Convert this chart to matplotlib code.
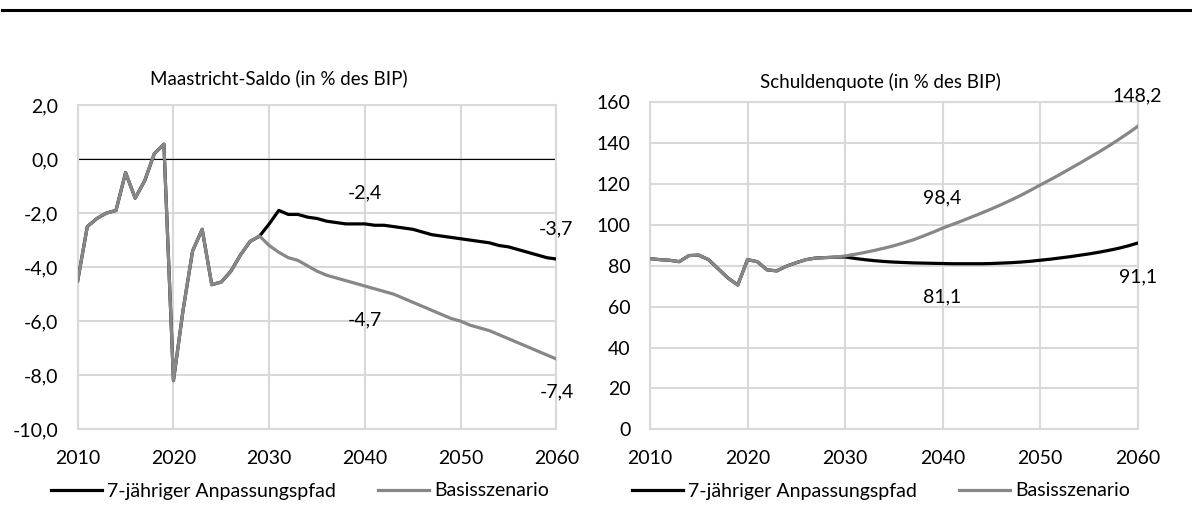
import matplotlib
matplotlib.use('Agg')
import matplotlib.pyplot as plt
from matplotlib.lines import Line2D

plt.rcParams['font.family'] = ['Lato', 'DejaVu Sans']

years = list(range(2010, 2061))

# Maastricht-Saldo (in % des BIP)
saldo_basis = [-4.5, -2.5, -2.2, -2.0, -1.9, -0.5, -1.45, -0.8, 0.2, 0.55,
               -8.2, -5.6, -3.4, -2.6, -4.65, -4.55, -4.15, -3.55, -3.05, -2.85,
               -3.2, -3.45, -3.65, -3.75, -3.95, -4.15, -4.3, -4.4, -4.5, -4.6,
               -4.7, -4.8, -4.9, -5.0, -5.15, -5.3, -5.45, -5.6, -5.75, -5.9,
               -6.0, -6.15, -6.25, -6.35, -6.5, -6.65, -6.8, -6.95, -7.1, -7.25,
               -7.4]
saldo_pfad = saldo_basis[:20] + [
               -2.4, -1.9, -2.05, -2.05, -2.15, -2.2, -2.3, -2.35, -2.4, -2.4,
               -2.4, -2.45, -2.45, -2.5, -2.55, -2.6, -2.7, -2.8, -2.85, -2.9,
               -2.95, -3.0, -3.05, -3.1, -3.2, -3.25, -3.35, -3.45, -3.55, -3.65,
               -3.7]

# Schuldenquote (in % des BIP)
schuld_basis = [83.5, 83.0, 82.7, 82.0, 85.0, 85.2, 83.0, 78.5, 74.0, 70.6,
                83.0, 82.0, 78.0, 77.5, 79.8, 81.5, 83.0, 83.8, 84.0, 84.2,
                84.8, 85.6, 86.5, 87.5, 88.6, 89.8, 91.2, 92.7, 94.5, 96.4,
                98.4, 100.2, 102.0, 103.9, 105.8, 107.8, 109.9, 112.1, 114.4, 116.9,
                119.5, 122.0, 124.6, 127.3, 130.0, 132.8, 135.6, 138.5, 141.6, 144.8,
                148.2]
schuld_pfad = schuld_basis[:20] + [
                84.3, 83.6, 83.0, 82.5, 82.1, 81.8, 81.6, 81.4, 81.3, 81.2,
                81.1, 81.0, 81.0, 81.0, 81.0, 81.1, 81.3, 81.5, 81.8, 82.2,
                82.7, 83.2, 83.8, 84.4, 85.1, 85.8, 86.6, 87.5, 88.5, 89.7,
                91.1]

# labels: (year, which series, text, above?)
saldo_labels = [(2040, 'pfad', '-2,4', True), (2060, 'pfad', '-3,7', True),
                (2040, 'basis', '-4,7', False), (2060, 'basis', '-7,4', False)]
schuld_labels = [(2040, 'basis', '98,4', True), (2060, 'basis', '148,2', True),
                 (2040, 'pfad', '81,1', False), (2060, 'pfad', '91,1', False)]

black = '#000000'
grey = '#878787'
gridc = '#d9d9d9'
fs = 14

fig = plt.figure(figsize=(11.92, 5.07), dpi=100)
ax1 = fig.add_axes([0.0652, 0.1533, 0.4016, 0.6396])
ax2 = fig.add_axes([0.5453, 0.1533, 0.4091, 0.6450])

# top rule
fig.add_artist(Line2D([0.002, 1.0], [0.980, 0.980], color='black', lw=2.2,
                      transform=fig.transFigure))


def style(ax, ylim, yticks, ylabels):
    ax.set_xlim(2010, 2060)
    ax.set_ylim(*ylim)
    ax.set_xticks(range(2010, 2061, 10))
    ax.set_yticks(yticks)
    ax.set_yticklabels(ylabels)
    ax.grid(True, color=gridc, lw=1.5, zorder=0)
    ax.set_axisbelow(True)
    for s in ax.spines.values():
        s.set_color(gridc)
        s.set_linewidth(1.5)
    ax.tick_params(length=0, labelsize=fs, colors='black')
    ax.tick_params(axis='x', pad=15)
    ax.tick_params(axis='y', pad=14)


def draw(ax, basis, pfad, labels):
    ax.plot(years, pfad, color=black, lw=2.3, zorder=3,
            label='7-jähriger Anpassungspfad')
    ax.plot(years, basis, color=grey, lw=2.3, zorder=4, label='Basisszenario')
    for yr, which, txt, above in labels:
        vals = pfad if which == 'pfad' else basis
        v = vals[years.index(yr)]
        off = 22 if above else -24
        ax.annotate(txt, (yr, v), xytext=(0, off), textcoords='offset points',
                    ha='center', va='center', fontsize=fs, annotation_clip=False)


style(ax1, (-10, 2), range(-10, 3, 2),
      [f'{v:.1f}'.replace('.', ',') for v in range(-10, 3, 2)])
ax1.axhline(0, color='black', lw=0.8, zorder=2)
draw(ax1, saldo_basis, saldo_pfad, saldo_labels)

style(ax2, (0, 160), range(0, 161, 20), [str(v) for v in range(0, 161, 20)])
draw(ax2, schuld_basis, schuld_pfad, schuld_labels)

fig.text(279 / 1192, 1 - 78 / 507, 'Maastricht-Saldo (in % des BIP)',
         ha='center', va='center', fontsize=13.5)
fig.text(880 / 1192, 1 - 82 / 507, 'Schuldenquote (in % des BIP)',
         ha='center', va='center', fontsize=13.5)

for ax, cx in [(ax1, 300 / 1192), (ax2, 881 / 1192)]:
    h, l = ax.get_legend_handles_labels()
    fig.legend(h, l, loc='center', bbox_to_anchor=(cx, 1 - 491 / 507), ncol=2,
               frameon=False, fontsize=fs, handlelength=2.6, handletextpad=0.25,
               columnspacing=2.2, borderpad=0, borderaxespad=0)

fig.savefig('out.png', dpi=100)
